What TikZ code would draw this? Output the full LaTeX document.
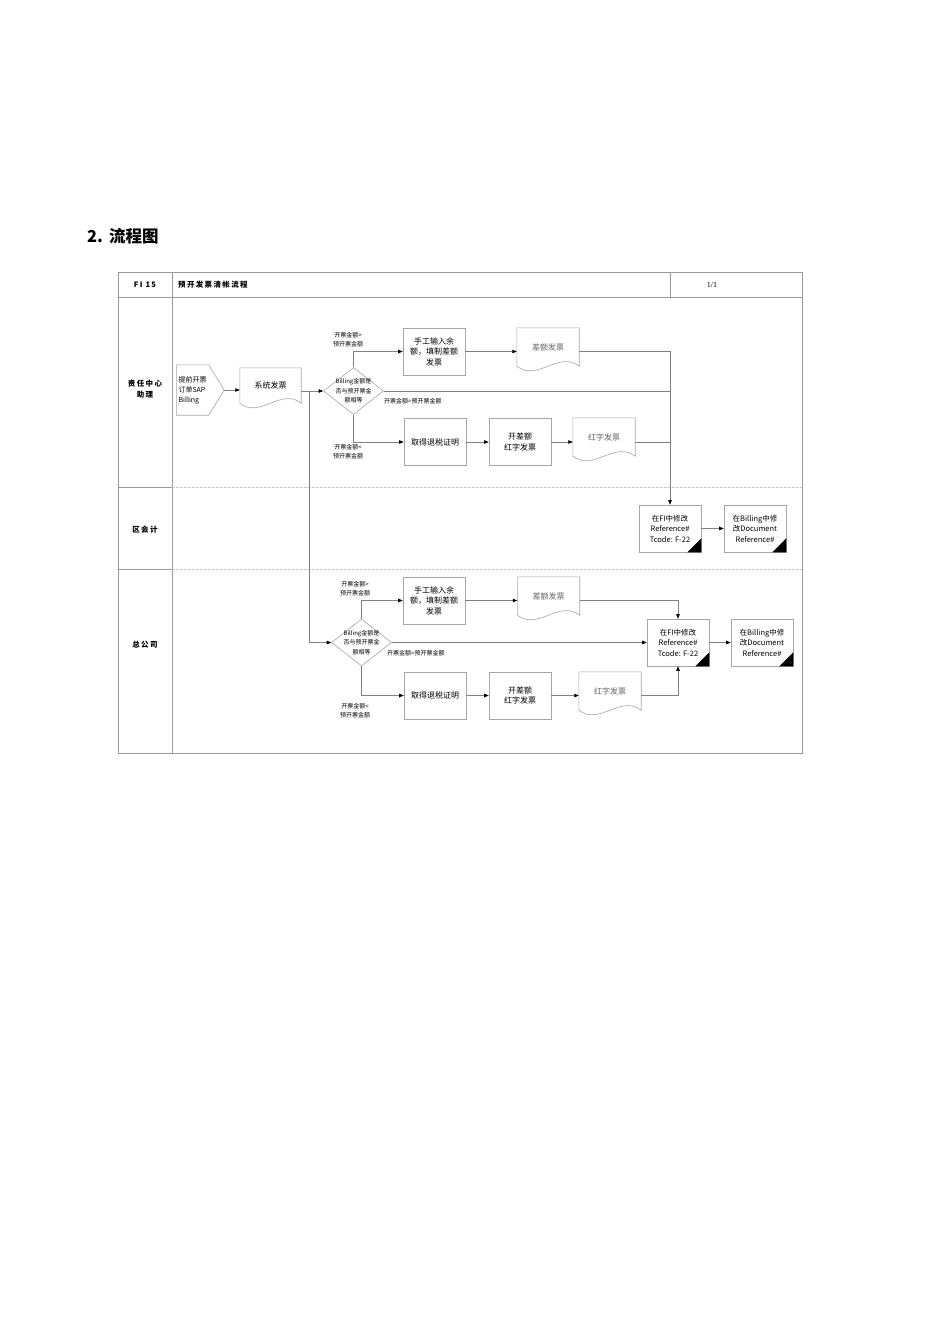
\documentclass[tikz,border=0pt]{standalone}
\usepackage{fontspec}
\setmainfont{Noto Sans CJK SC}
\newfontfamily\onefont{Liberation Serif}
\newfontfamily\spaced[LetterSpace=18]{Noto Sans CJK SC}
\usetikzlibrary{arrows.meta,shapes.geometric,calc}
\newcommand\docpath[1]{\draw[boxline] (#1.south west) -- (#1.north west) -- (#1.north east) -- (#1.south east) .. controls ($(#1.south east)!0.33!(#1.south west)+(0,-16)$) and ($(#1.south east)!0.67!(#1.south west)+(0,16)$) .. (#1.south west);}
\newcommand\cornermark[1]{\fill (#1.south east) -- ++(-14,0) -- ++(14,-14) -- cycle;}
\begin{document}
\begin{tikzpicture}[x=1pt,y=-1pt,
  frame/.style={draw=black!40, line width=0.8pt},
  boxline/.style={draw=black!35, line width=0.6pt},
  box/.style={boxline, rectangle, minimum width=62pt, minimum height=47pt, inner sep=0pt, align=center, font=\fontsize{8}{10.5}\selectfont},
  fibox/.style={box, font=\fontsize{7.5}{10.5}\selectfont},
  docn/.style={rectangle, minimum width=62pt, minimum height=38pt, inner sep=0pt, align=center, text=black!60, font=\fontsize{8}{10}\selectfont},
  diam/.style={diamond, boxline, minimum width=60pt, minimum height=47pt, inner sep=0pt},
  dtext/.style={align=center, inner sep=0pt, font=\fontsize{6}{9.5}\selectfont},
  lbl/.style={align=center, inner sep=0pt, font=\fontsize{6}{9}\selectfont},
  lane/.style={align=center, inner sep=0pt, font=\spaced\bfseries\fontsize{7.5}{11}\selectfont},
  conn/.style={draw=black!50, line width=0.6pt},
  arr/.style={conn, -{Triangle[length=4.5pt,width=3.5pt,color=black]}}
]
\useasboundingbox (0,0) rectangle (950,1344);
\fill[white] (0,0) rectangle (950,1344);

% title
\node[anchor=west, inner sep=0pt, font=\bfseries\fontsize{16.5}{18}\selectfont] (title) at (87,236) {2.\hspace{6pt}流程图};

% frame
\draw[frame] (118,272) rectangle (802,753);
\draw[frame] (118,297) -- (802,297);
\draw[frame] (172,272) -- (172,753);
\draw[frame] (670,272) -- (670,297);
\draw[frame] (118,487) -- (172,487);
\draw[frame] (118,569) -- (172,569);
\draw[draw=black!22, line width=0.6pt, dash pattern=on 3pt off 1pt] (172,487) -- (802,487);
\draw[draw=black!22, line width=0.6pt, dash pattern=on 3pt off 1pt] (172,569) -- (802,569);

% header
\node[lane] (hid) at (145,284.5) {FI 15};
\node[lane, anchor=west] (htitle) at (178,284.5) {预开发票清帐流程};
\node[inner sep=0pt, font=\onefont\fontsize{8}{10}\selectfont] (hpage) at (712,284.5) {1/1};

% lane labels
\node[lane] (l1) at (145,389) {责任中心\\助理};
\node[lane] (l2) at (145,530) {区会计};
\node[lane] (l3) at (145,645) {总公司};

% ---------- lane 1 ----------
\node[rectangle, minimum width=32pt, minimum height=50pt, inner sep=0pt, align=left, font=\fontsize{7}{10}\selectfont] (op1) at (192.5,390) {提前开票\\订单SAP\\Billing};
\draw[boxline] (op1.north west) -- (op1.north east) -- ($(op1.east)+(15.5,0)$) -- (op1.south east) -- (op1.south west) -- cycle;
\coordinate (op1tip) at ($(op1.east)+(15.5,0)$);

\node[docn, minimum width=61pt, minimum height=35pt, text=black] (sys) at (270.5,385.5) {系统发票};
\docpath{sys}

\coordinate (j1) at (309,391);
\node[diam] (d1) at (353.5,391) {};
\node[dtext] (d1t) at (353.5,391) {Billing金额是\\否与预开票金\\额相等};

\node[box] (m1) at (434,351.5) {手工输入余\\额，填制差额\\发票};
\node[docn] (cd1) at (548,347) {差额发票};
\docpath{cd1}
\node[box] (r1) at (435,442) {取得退税证明};
\node[box] (b1) at (520,442) {开差额\\红字发票};
\node[docn] (rd1) at (604,437) {红字发票};
\docpath{rd1}

\node[lbl] (g1) at (348,340) {开票金额>\\预开票金额};
\node[lbl, anchor=west] (e1) at (384,401) {开票金额=预开票金额};
\node[lbl] (s1) at (348,452) {开票金额<\\预开票金额};

% ---------- lane 2 ----------
\node[fibox] (fi1) at (670,528.5) {在FI中修改\\Reference\#\\Tcode: F-22};
\cornermark{fi1}
\node[fibox] (bl1) at (755,528.5) {在Billing中修\\改Document\\Reference\#};
\cornermark{bl1}

% ---------- lane 3 ----------
\node[diam] (d2) at (361.5,642.5) {};
\node[dtext] (d2t) at (361.5,642.5) {Billing金额是\\否与预开票金\\额相等};
\node[box] (m2) at (434,600.5) {手工输入余\\额，填制差额\\发票};
\node[docn] (cd2) at (548.5,596) {差额发票};
\docpath{cd2}
\node[box] (r2) at (435,695.5) {取得退税证明};
\node[box] (b2) at (520,695.5) {开差额\\红字发票};
\node[docn] (rd2) at (610,691) {红字发票};
\docpath{rd2}
\node[fibox] (fi2) at (678,642.5) {在FI中修改\\Reference\#\\Tcode: F-22};
\cornermark{fi2}
\node[fibox] (bl2) at (762,642.5) {在Billing中修\\改Document\\Reference\#};
\cornermark{bl2}

\node[lbl] (g2) at (355,589) {开票金额>\\预开票金额};
\node[lbl, anchor=west] (e2) at (387,653) {开票金额=预开票金额};
\node[lbl] (s2) at (355,711) {开票金额<\\预开票金额};

% ---------- connectors ----------
\draw[arr] (op1tip) -- (op1tip -| sys.west);
\draw[conn] (sys.east |- j1) -- (j1);
\draw[arr] (j1) -- (d1.west);
\draw[arr] (j1) |- (d2.west);

\draw[arr] (d1.north) |- (m1.west);
\draw[arr] (m1.east) -- (m1.east -| cd1.west);
\draw[arr] (cd1.east |- m1.east) -| (fi1.north);
\draw[conn] (d1.east) -- (d1.east -| fi1.north);
\draw[arr] (d1.south) |- (r1.west);
\draw[arr] (r1) -- (b1);
\draw[arr] (b1.east) -- (b1.east -| rd1.west);
\draw[conn] (rd1.east |- b1.east) -- (b1.east -| fi1.north);
\draw[arr] (fi1) -- (bl1);

\draw[arr] (d2.north) |- (m2.west);
\draw[arr] (m2.east) -- (m2.east -| cd2.west);
\draw[arr] (cd2.east |- m2.east) -| (fi2.north);
\draw[arr] (d2.east) -- (fi2.west);
\draw[arr] (d2.south) |- (r2.west);
\draw[arr] (r2) -- (b2);
\draw[arr] (b2.east) -- (b2.east -| rd2.west);
\draw[arr] (rd2.east |- b2.east) -| (fi2.south);
\draw[arr] (fi2) -- (bl2);
\end{tikzpicture}
\end{document}
